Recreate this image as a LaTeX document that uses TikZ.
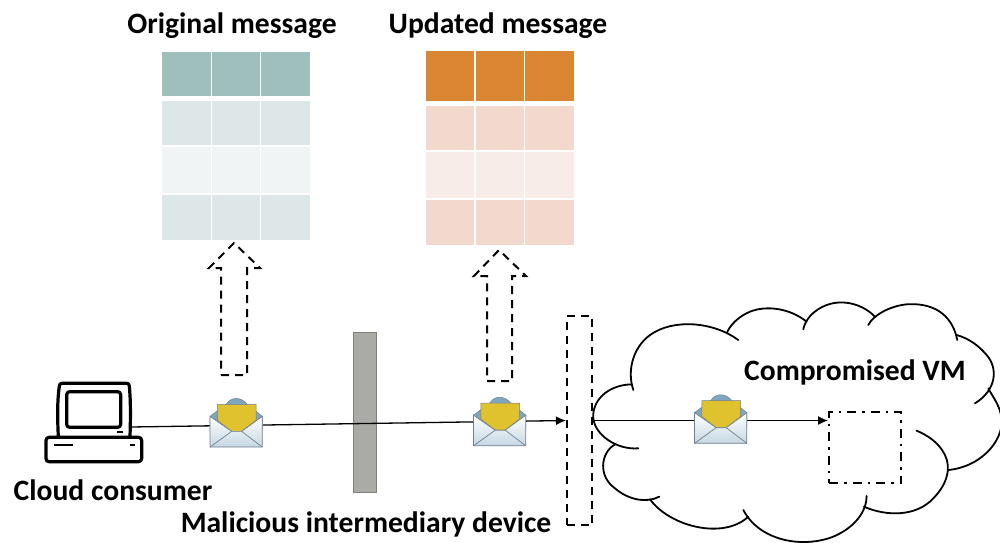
\documentclass[tikz,border=0pt]{standalone}
\usepackage{fontspec}
\setmainfont{Carlito}
\usetikzlibrary{arrows.meta}
\definecolor{tealH}{HTML}{9FBFBD}
\definecolor{tealA}{HTML}{DEE7E8}
\definecolor{tealB}{HTML}{F0F4F4}
\definecolor{orH}{HTML}{DB8632}
\definecolor{orA}{HTML}{F3D8CD}
\definecolor{orB}{HTML}{F8ECE8}
\definecolor{flapblue}{HTML}{7FA6BF}
\definecolor{letter}{HTML}{DFC22E}
\definecolor{envedge}{HTML}{6F8090}
\definecolor{devfill}{HTML}{ABABA5}
\definecolor{devedge}{HTML}{7F7F7B}
\tikzset{
  lbl/.style={font=\fontsize{29.6}{34}\selectfont\bfseries,inner sep=0pt,text=black},
  dashline/.style={draw=black,line width=2pt,dash pattern=on 8pt off 6pt},
  dashdot/.style={draw=black,line width=2pt,dash pattern=on 9pt off 6pt on 2.5pt off 6pt},
  conn/.style={draw=black,line width=1.3pt,-{Latex[length=10pt,width=9pt]}},
  pcline/.style={draw=black,line width=3.2pt,line join=round,line cap=round},
  cloudline/.style={draw=black,line width=1.8pt,line cap=round},
  envelope/.pic={
    \begin{scope}[x=0.3333pt,y=-0.3333pt]
      \fill[flapblue,draw=envedge,line width=.5pt] (-78,-19) -- (-28,-57) .. controls (-15,-78) and (15,-78) .. (32,-57) -- (79,-19) -- (79,20) -- (-78,20) -- cycle;
      \fill[letter,draw=envedge,line width=.5pt] (-56,-55) -- (60,-55) -- (60,-7) -- (17,26) -- (-13,26) -- (-56,-7) -- cycle;
      \shade[top color=white,bottom color=white!55!flapblue,draw=none] (-78,-19) -- (-13,26) -- (17,26) -- (79,-19) -- (79,73) -- (-78,73) -- cycle;
      \draw[envedge,line width=.7pt] (-78,-19) -- (-13,26) -- (17,26) -- (79,-19) -- (79,73) -- (-78,73) -- cycle;
      \draw[envedge,line width=.7pt] (-78,73) -- (-13,26) (79,73) -- (17,26);
    \end{scope}
  }
}
\begin{document}
\begin{tikzpicture}[x=1pt,y=-1pt]
\useasboundingbox (0,0) rectangle (1000,542);
% tables
\foreach \xa/\xb in {162/211,212/260,261/310}{
  \foreach \ya/\yb/\c in {52/96/tealH,101/145/tealA,147/193/tealB,195/240/tealA}{
    \fill[\c] (\xa,\ya) rectangle (\xb,\yb);
  }
}
\foreach \xa/\xb in {426/474,476/524,525/574}{
  \foreach \ya/\yb/\c in {51/101/orH,106/150/orA,152/198/orB,200/245/orA}{
    \fill[\c] (\xa,\ya) rectangle (\xb,\yb);
  }
}
% labels
\node[lbl] (orig) at (232,26) {Original message};
\node[lbl] (upd) at (498,26) {Updated message};
\node[lbl] (cons) at (113,490) {Cloud consumer};
\node[lbl] (mal) at (366,524) {Malicious intermediary device};
\node[lbl] (vmlabel) at (855,372) {Compromised VM};
% block arrows
\draw[dashline] (221,375) -- (247,375) -- (247,268) -- (260,268) -- (234,243) -- (209,268) -- (221,268) -- cycle;
\draw[dashline] (487,381) -- (512,381) -- (512,276) -- (526,276) -- (499,250) -- (474,276) -- (487,276) -- cycle;
% intermediary device and gate
\node[draw=devedge,fill=devfill,line width=1.8pt,minimum width=23pt,minimum height=160pt,inner sep=0pt] (dev) at (365,412.5) {};
\node[dashline,minimum width=25.5pt,minimum height=209pt,inner sep=0pt] (gate) at (579.7,420.5) {};
\node[dashdot,minimum width=72pt,minimum height=71pt,inner sep=0pt] (vm) at (865,447.5) {};
% cloud
\begin{scope}[shift={(540,290)},x=0.3333pt,y=-0.3333pt]
  \draw[cloudline] (595,150) .. controls (520,95) and (400,85) .. (330,135) .. controls (280,172) and (260,240) .. (280,300);
  \draw[cloudline] (275,283) .. controls (200,285) and (155,335) .. (160,385) .. controls (165,435) and (230,480) .. (295,475);
  \draw[cloudline] (225,463) .. controls (180,490) and (175,560) .. (225,595) .. controls (265,630) and (320,640) .. (358,620);
  \draw[cloudline] (330,628) .. controls (390,710) and (550,750) .. (625,680);
  \draw[cloudline] (610,660) .. controls (660,755) and (790,775) .. (880,740) .. controls (950,710) and (980,660) .. (980,618);
  \draw[cloudline] (972,650) .. controls (1040,680) and (1130,680) .. (1180,625) .. controls (1220,585) and (1235,535) .. (1215,495) .. controls (1195,455) and (1160,435) .. (1130,422);
  \draw[cloudline] (1225,540) .. controls (1330,530) and (1402,440) .. (1382,370) .. controls (1375,340) and (1355,315) .. (1345,295);
  \draw[cloudline] (1305,340) .. controls (1370,300) and (1375,235) .. (1340,195) .. controls (1315,165) and (1285,145) .. (1250,135);
  \draw[cloudline] (1252,150) .. controls (1235,65) and (1170,38) .. (1100,43) .. controls (1050,48) and (1000,75) .. (985,105);
  \draw[cloudline] (1005,80) .. controls (960,35) and (900,30) .. (860,45) .. controls (820,60) and (795,90) .. (790,118);
  \draw[cloudline] (800,95) .. controls (750,55) and (680,45) .. (630,65) .. controls (595,80) and (570,105) .. (560,130);
\end{scope}
% computer
\begin{scope}[shift={(0,360)},x=0.3333pt,y=-0.3333pt]
  \draw[pcline] (175,230) .. controls (172,170) and (172,120) .. (178,78) .. controls (178,72) and (182,70) .. (186,70) -- (380,70) .. controls (385,70) and (388,72) .. (388,78) .. controls (392,120) and (392,170) .. (390,230);
  \draw[pcline,rounded corners=3pt] (200,95) rectangle (362,202);
  \draw[pcline,rounded corners=3pt] (138,232) rectangle (425,305);
  \draw[black,line width=1.8pt] (352,215) -- (368,215) (162,255) -- (218,255) (390,255) -- (405,255);
  \coordinate (pcport) at (392,201);
\end{scope}
% connectors
\draw[conn] (pcport) -- (gate.west);
\draw[conn] (gate.east) -- (gate.east -| vm.west);
% envelopes
\pic (env1) at (236,422.7) {envelope};
\pic (env2) at (499.5,421.5) {envelope};
\pic (env3) at (720.5,419) {envelope};
\end{tikzpicture}
\end{document}
